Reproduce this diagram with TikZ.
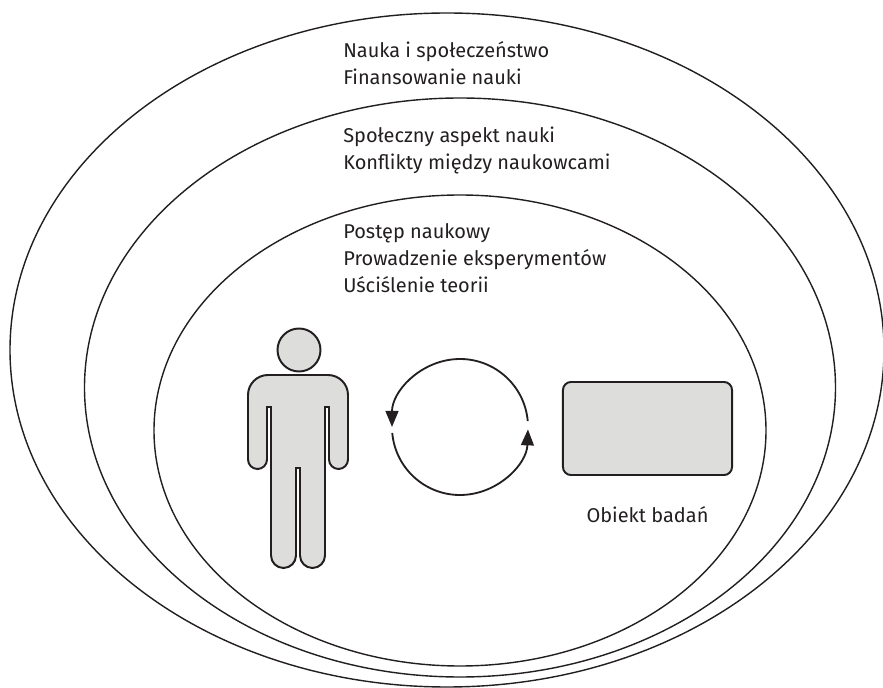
\documentclass[tikz,border=0pt]{standalone}
\usepackage{fontspec}
\setmainfont{Fira Sans}
\usetikzlibrary{arrows.meta,positioning}
\definecolor{ink}{HTML}{231F20}
\definecolor{bodygrey}{HTML}{DDDDDC}
\tikzset{
  ring/.style={draw=ink, line width=1pt},
  txt/.style={anchor=base west, align=left, inner sep=0pt, text=ink, font=\fontsize{14.2}{19.3}\selectfont},
  figure/.style={draw=ink, fill=bodygrey, line width=1.4pt},
  cyc/.style={draw=ink, line width=1.3pt, -{Triangle[length=0.4cm,width=0.32cm]}}
}
\begin{document}
\begin{tikzpicture}[x=0.025cm,y=-0.025cm]
            \useasboundingbox (0,0) rectangle (883,688);
            \draw[ring] (447,350) ellipse [x radius=437, y radius=337];
            \draw[ring] (460,387.5) ellipse [x radius=375.5, y radius=289.5];
            \draw[ring] (460,430.5) ellipse [x radius=306, y radius=235.5];

            \node[txt] (spoleczenstwo) at (343,85) {Nauka i społeczeństwo\\Finansowanie nauki};
            \node[txt] (aspekt) at (343,170) {Społeczny aspekt nauki\\Konflikty między naukowcami};
            \node[txt] (postep) at (343,293) {Postęp naukowy\\Prowadzenie eksperymentów\\Uściślenie teorii};

            \coordinate (badacz) at (299,350);
            \draw[figure] (badacz) circle [radius=21.5];
            \draw[figure] (267,407) -- (267,459.5) arc[start angle=0, end angle=180, radius=9.5]
                -- (248,395) arc[start angle=180, end angle=270, radius=20]
                -- (328,375) arc[start angle=270, end angle=360, radius=20]
                -- (348,459.5) arc[start angle=0, end angle=180, radius=9.5]
                -- (329,407) -- (325,407)
                -- (325,555.5) arc[start angle=0, end angle=180, radius=12.5]
                -- (300,468) -- (296,468)
                -- (296,555.5) arc[start angle=0, end angle=180, radius=12.5]
                -- (271,407) -- cycle;

            \coordinate (cykl) at (460,427);
            \draw[cyc] (cykl) ++(-5:68) arc[start angle=-5, end angle=-180, radius=68];
            \draw[cyc] (cykl) ++(175:68) arc[start angle=175, end angle=2, radius=68];

            \node[draw=ink, fill=bodygrey, line width=1.4pt, rounded corners=0.2cm, minimum width=4.225cm, minimum height=2.325cm, inner sep=0pt] (obiekt) at (647.5,428.5) {};
            \node[txt, anchor=north, below=0.75cm of obiekt] (opis) {Obiekt badań};
\end{tikzpicture}
\end{document}
